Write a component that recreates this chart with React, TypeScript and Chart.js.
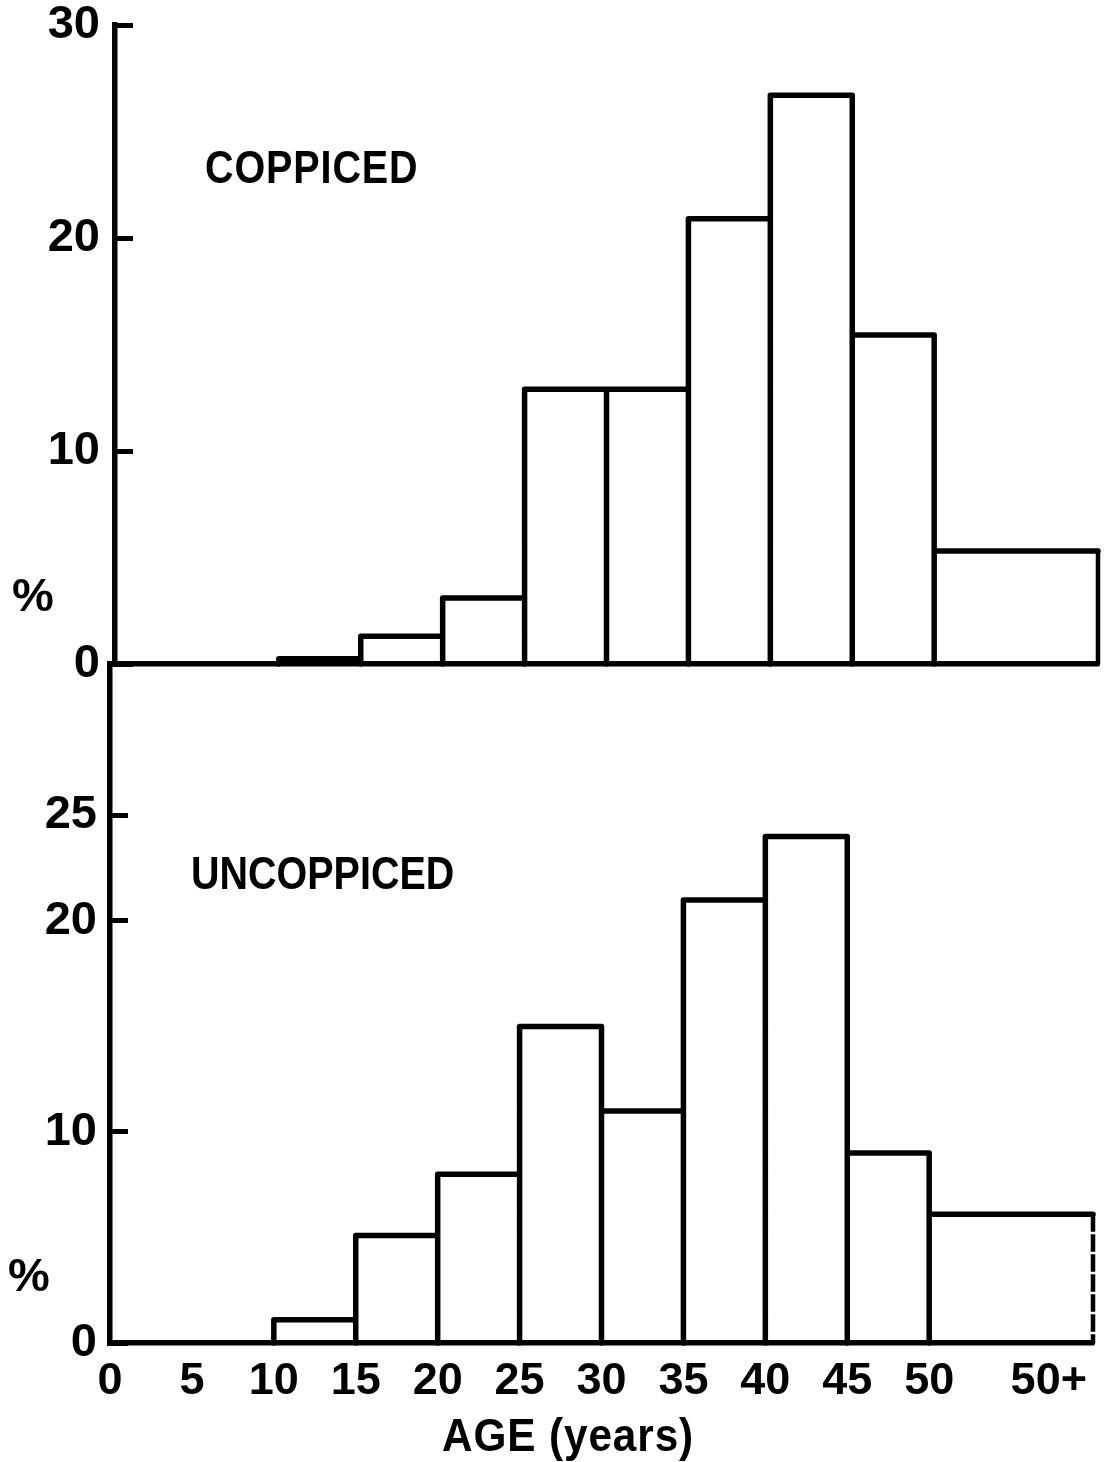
import React, { useEffect, useRef } from "react";
import { Chart, registerables } from "chart.js";

Chart.register(...registerables);

// ---- data ----
const binStarts = [10, 15, 20, 25, 30, 35, 40, 45, 50];
const binEnds = [15, 20, 25, 30, 35, 40, 45, 50, 60];
const coppicedValues = [0.25, 1.3, 3.1, 12.9, 12.9, 20.9, 26.7, 15.45, 5.3];
const uncoppicedValues = [1.1, 5.1, 8.0, 15.0, 11.0, 21.0, 24.0, 9.0, 6.1];
const coppicedYTicks = [0, 10, 20, 30];
const uncoppicedYTicks = [0, 10, 20, 25];
const xTickValues = [0, 5, 10, 15, 20, 25, 30, 35, 40, 45, 50, 57.3];
const xTickLabels = ["0", "5", "10", "15", "20", "25", "30", "35", "40", "45", "50", "50+"];
const topTitle = "COPPICED";
const bottomTitle = "UNCOPPICED";
const yUnit = "%";
const xTitle = "AGE (years)";

const FONT = "'Liberation Sans', Arial, sans-serif";

function outline(values: number[]) {
  const pts: { x: number; y: number }[] = [];
  values.forEach((v, i) => {
    pts.push({ x: binStarts[i], y: 0 });
    pts.push({ x: binStarts[i], y: v });
    pts.push({ x: binEnds[i], y: v });
    pts.push({ x: binEnds[i], y: 0 });
  });
  return pts;
}

function makeConfig(opts: {
  values: number[];
  yMax: number;
  yTicks: number[];
  padding: { top: number; right: number; left: number; bottom: number };
  yWidth: number;
  xHeight: number;
  showX: boolean;
  yPad: number;
}): any {
  const pts = outline(opts.values);
  const last = pts.length - 1;
  return {
    type: "line",
    data: {
      datasets: [
        {
          data: pts,
          borderColor: "#000",
          borderWidth: 5.5,
          pointRadius: 0,
          pointHoverRadius: 0,
          fill: false,
          tension: 0,
          borderJoinStyle: "round",
          borderCapStyle: "round",
          clip: false,
          segment: {
            borderDash: (ctx: any) => (ctx.p1DataIndex === last ? [13, 7] : undefined),
            borderCapStyle: (ctx: any) => (ctx.p1DataIndex === last ? "butt" : undefined),
            borderWidth: (ctx: any) => (ctx.p1DataIndex === last ? 4.5 : undefined),
          },
        },
      ],
    },
    options: {
      animation: false,
      responsive: false,
      events: [],
      layout: { padding: opts.padding },
      plugins: { legend: { display: false }, tooltip: { enabled: false } },
      scales: {
        x: {
          type: "linear",
          min: 0,
          max: 60,
          afterBuildTicks: (s: any) => {
            s.ticks = xTickValues.map((v) => ({ value: v }));
          },
          ticks: {
            display: opts.showX,
            color: "#000",
            font: { family: FONT, size: 45, weight: "bold" },
            padding: 12,
            autoSkip: false,
            maxRotation: 0,
            minRotation: 0,
            callback: (v: any) => {
              const i = xTickValues.indexOf(Number(v));
              return i >= 0 ? xTickLabels[i] : "";
            },
          },
          grid: { display: false, drawTicks: false },
          border: { display: true, color: "#000", width: 5.5 },
          afterFit: (s: any) => {
            s.height = opts.xHeight;
            s.paddingLeft = 0;
            s.paddingRight = 0;
          },
        },
        y: {
          type: "linear",
          min: 0,
          max: opts.yMax,
          afterBuildTicks: (s: any) => {
            s.ticks = opts.yTicks.map((v) => ({ value: v }));
          },
          ticks: {
            color: "#000",
            font: { family: FONT, size: 47, weight: "bold" },
            padding: opts.yPad,
            callback: (v: any) => String(v),
          },
          grid: {
            display: true,
            drawOnChartArea: false,
            drawTicks: true,
            tickLength: -18,
            color: "#000",
            lineWidth: 5,
          },
          border: { display: true, color: "#000", width: 5.5 },
          afterFit: (s: any) => {
            s.width = opts.yWidth;
            s.paddingTop = 0;
            s.paddingBottom = 0;
          },
        },
      },
    },
  };
}

const textBase: React.CSSProperties = {
  position: "absolute",
  fontFamily: FONT,
  fontWeight: "bold",
  lineHeight: 1,
  color: "#000",
  whiteSpace: "nowrap",
  margin: 0,
  transformOrigin: "0 0",
};

export default function App() {
  const topRef = useRef<HTMLCanvasElement>(null);
  const bottomRef = useRef<HTMLCanvasElement>(null);

  useEffect(() => {
    const charts: Chart[] = [];
    if (topRef.current) {
      charts.push(
        new Chart(
          topRef.current,
          makeConfig({
            values: coppicedValues,
            yMax: 30,
            yTicks: coppicedYTicks,
            padding: { top: 25, right: 6, left: 0, bottom: 0 },
            yWidth: 115,
            xHeight: 36,
            showX: false,
            yPad: 33,
          })
        )
      );
    }
    if (bottomRef.current) {
      charts.push(
        new Chart(
          bottomRef.current,
          makeConfig({
            values: uncoppicedValues,
            yMax: 32.18,
            yTicks: uncoppicedYTicks,
            padding: { top: 34, right: 11, left: 0, bottom: 0 },
            yWidth: 110,
            xHeight: 119,
            showX: true,
            yPad: 31,
          })
        )
      );
    }
    return () => charts.forEach((c) => c.destroy());
  }, []);

  return (
    <div
      style={{
        position: "absolute",
        left: 0,
        top: 0,
        width: 1104,
        height: 1462,
        background: "#fff",
        overflow: "hidden",
      }}
    >
      <canvas
        ref={topRef}
        width={1104}
        height={700}
        style={{ position: "absolute", left: 0, top: 0, width: 1104, height: 700 }}
      />
      <canvas
        ref={bottomRef}
        width={1104}
        height={832}
        style={{ position: "absolute", left: 0, top: 630, width: 1104, height: 832 }}
      />
      <div style={{ ...textBase, left: 205, top: 144, fontSize: 46, letterSpacing: 1, transform: "scaleX(0.86)" }}>
        {topTitle}
      </div>
      <div style={{ ...textBase, left: 191, top: 849, fontSize: 47, letterSpacing: 0, transform: "scaleX(0.84)" }}>
        {bottomTitle}
      </div>
      <div style={{ ...textBase, left: 12, top: 571, fontSize: 47 }}>{yUnit}</div>
      <div style={{ ...textBase, left: 8, top: 1251, fontSize: 47 }}>{yUnit}</div>
      <div style={{ ...textBase, left: 442, top: 1411, fontSize: 47, letterSpacing: 1, transform: "scaleX(0.9)" }}>
        {xTitle}
      </div>
    </div>
  );
}
